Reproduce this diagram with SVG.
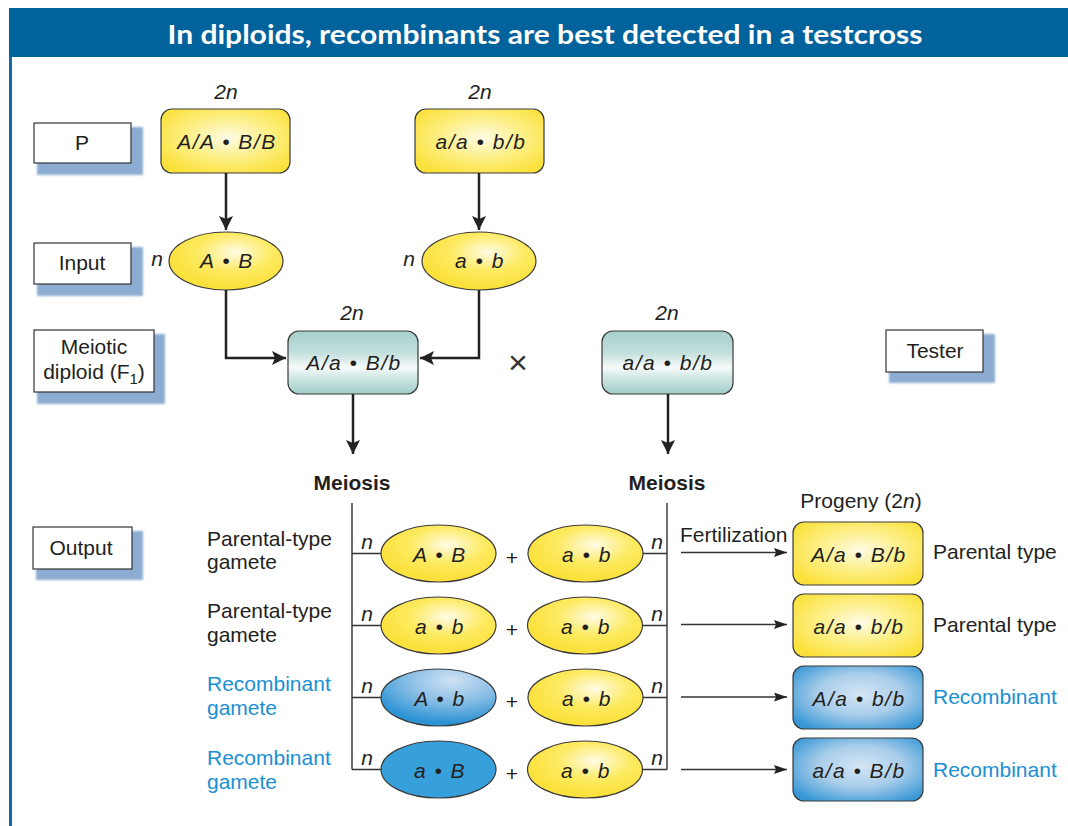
<svg xmlns="http://www.w3.org/2000/svg" width="1068" height="826" viewBox="0 0 1068 826">
<defs>
  <radialGradient id="gy" cx="52%" cy="45%" r="62%">
    <stop offset="0" stop-color="#fffbe4"/>
    <stop offset="0.55" stop-color="#fdee80"/>
    <stop offset="1" stop-color="#fbe13c"/>
  </radialGradient>
  <radialGradient id="gye" cx="58%" cy="35%" r="60%">
    <stop offset="0" stop-color="#fffbe4"/>
    <stop offset="0.55" stop-color="#fdea60"/>
    <stop offset="1" stop-color="#fbe13c"/>
  </radialGradient>
  <radialGradient id="gb" cx="52%" cy="45%" r="65%">
    <stop offset="0" stop-color="#d4e6f5"/>
    <stop offset="0.5" stop-color="#a9cdea"/>
    <stop offset="1" stop-color="#3797d6"/>
  </radialGradient>
  <radialGradient id="gbe" cx="62%" cy="20%" r="75%">
    <stop offset="0" stop-color="#cfe2f4"/>
    <stop offset="0.5" stop-color="#8cbfe6"/>
    <stop offset="1" stop-color="#2c93d4"/>
  </radialGradient>
  <linearGradient id="gt" x1="0" y1="0" x2="0" y2="1">
    <stop offset="0" stop-color="#a5cfcb"/>
    <stop offset="0.35" stop-color="#c3e0dd"/>
    <stop offset="0.58" stop-color="#f6fbfa"/>
    <stop offset="0.75" stop-color="#cde6e3"/>
    <stop offset="1" stop-color="#a2ccc7"/>
  </linearGradient>
  <filter id="blur" x="-10%" y="-10%" width="120%" height="130%">
    <feGaussianBlur stdDeviation="1.2"/>
  </filter>
  <marker id="ah" markerUnits="userSpaceOnUse" markerWidth="16" markerHeight="16" refX="14" refY="7" orient="auto">
    <path d="M0,0 L14,7 L0,14 L3,7 z" fill="#222"/>
  </marker>
  <marker id="ahs" markerUnits="userSpaceOnUse" markerWidth="14" markerHeight="10" refX="13" refY="4.5" orient="auto">
    <path d="M0,0 L13,4.5 L0,9 L2,4.5 z" fill="#222"/>
  </marker>
</defs>
<style>
  text { font-family: "Liberation Sans", Arial, sans-serif; font-size: 21px; fill: #231f20; }
  .title { font-family: Lato, "Open Sans", sans-serif; font-weight: bold; font-size: 27px; fill: #ffffff; }
  .it { font-style: italic; }
  .geno { font-style: italic; letter-spacing: 1.5px; }
  .c { text-anchor: middle; }
  .bold { font-weight: bold; }
  .blue { fill: #1b8fd3; }
  .times { font-size: 34px; fill: #333333; }
  .lbl { fill: #ffffff; stroke: #333333; stroke-width: 1.2; }
  .shadow { fill: #8cadd1; filter: url(#blur); }
  .shape { stroke: #3a3a3a; stroke-width: 1.2; }
  .y { fill: url(#gy); }
  .ye { fill: url(#gye); }
  .b { fill: url(#gb); }
  .be { fill: url(#gbe); }
  .bs { fill: #37a0da; }
  .t { fill: url(#gt); }
  .thick { fill: none; stroke: #222; stroke-width: 2.5; }
  .thin { fill: none; stroke: #333; stroke-width: 1.4; }
</style>

<rect width="1068" height="826" fill="#ffffff"/>
<g id="header">
  <rect x="9" y="8" width="1059" height="49" fill="#02629c"/>
  <line x1="10.5" y1="57" x2="10.5" y2="826" stroke="#0e69a6" stroke-width="3"/>
  <text class="title c" x="545" y="44" textLength="755" lengthAdjust="spacingAndGlyphs">In diploids, recombinants are best detected in a testcross</text>
</g>

<!-- stage labels -->
<g id="label-P">
  <rect class="shadow" x="37" y="127" width="106" height="48"/>
  <rect class="lbl" x="34" y="123" width="97" height="40"/>
  <text class="c" x="82" y="150">P</text>
</g>
<g id="label-input">
  <rect class="shadow" x="37" y="247" width="106" height="49"/>
  <rect class="lbl" x="34" y="243" width="97" height="41"/>
  <text class="c" x="82" y="270">Input</text>
</g>
<g id="label-meiotic">
  <rect class="shadow" x="37" y="334" width="128" height="70"/>
  <rect class="lbl" x="34" y="330" width="120" height="62"/>
  <text class="c" x="94" y="354">Meiotic</text>
  <text class="c" x="94" y="379">diploid (F<tspan style="font-size:15px" dy="5">1</tspan><tspan dy="-5">)</tspan></text>
</g>
<g id="label-tester">
  <rect class="shadow" x="889" y="334" width="106" height="49"/>
  <rect class="lbl" x="886" y="330" width="97" height="42"/>
  <text class="c" x="935" y="358">Tester</text>
</g>
<g id="label-output">
  <rect class="shadow" x="36" y="531" width="107" height="49"/>
  <rect class="lbl" x="33" y="527" width="99" height="42"/>
  <text class="c" x="81" y="555">Output</text>
</g>

<!-- parents -->
<g id="parent-AABB">
  <text class="it c" x="226" y="99">2n</text>
  <rect class="shape y" x="161" y="109" width="129" height="64" rx="11"/>
  <text class="geno c" x="227" y="149">A/A • B/B</text>
</g>
<g id="parent-aabb">
  <text class="it c" x="480" y="99">2n</text>
  <rect class="shape y" x="415" y="109" width="129" height="64" rx="11"/>
  <text class="geno c" x="481" y="149">a/a • b/b</text>
</g>

<!-- input gametes -->
<g id="input-AB">
  <text class="it c" x="157" y="266">n</text>
  <ellipse class="shape ye" cx="226" cy="261" rx="57" ry="29"/>
  <text class="geno c" x="227" y="268">A • B</text>
</g>
<g id="input-ab">
  <text class="it c" x="409" y="266">n</text>
  <ellipse class="shape ye" cx="479" cy="261" rx="57" ry="29"/>
  <text class="geno c" x="480" y="268">a • b</text>
</g>

<!-- F1 and tester -->
<g id="f1">
  <text class="it c" x="352" y="320">2n</text>
  <rect class="shape t" x="288" y="331" width="130" height="63" rx="11"/>
  <text class="geno c" x="354" y="370">A/a • B/b</text>
</g>
<g id="cross">
  <text class="times c" x="518" y="374">×</text>
</g>
<g id="tester">
  <text class="it c" x="667" y="320">2n</text>
  <rect class="shape t" x="602" y="331" width="131" height="63" rx="11"/>
  <text class="geno c" x="668" y="370">a/a • b/b</text>
</g>
<g id="meiosis-labels">
  <text class="bold c" x="352" y="490">Meiosis</text>
  <text class="bold c" x="667" y="490">Meiosis</text>
</g>

<!-- gamete rows -->
<g id="row1">
  <text x="207" y="546">Parental-type</text>
  <text x="207" y="569">gamete</text>
  <text class="it c" x="367" y="549">n</text>
  <ellipse class="shape ye" cx="438.5" cy="553.5" rx="57.5" ry="28.5"/>
  <text class="geno c" x="440" y="562">A • B</text>
  <text class="c" x="512" y="565">+</text>
  <ellipse class="shape ye" cx="585.5" cy="553.5" rx="57.5" ry="28.5"/>
  <text class="geno c" x="587" y="562">a • b</text>
  <text class="it c" x="657" y="549">n</text>
</g>
<g id="row2">
  <text x="207" y="618">Parental-type</text>
  <text x="207" y="642">gamete</text>
  <text class="it c" x="367" y="621">n</text>
  <ellipse class="shape ye" cx="438.5" cy="625.5" rx="57.5" ry="28.5"/>
  <text class="geno c" x="440" y="634">a • b</text>
  <text class="c" x="512" y="637">+</text>
  <ellipse class="shape ye" cx="585" cy="625.5" rx="57.5" ry="28.5"/>
  <text class="geno c" x="586" y="634">a • b</text>
  <text class="it c" x="657" y="621">n</text>
</g>
<g id="row3">
  <text class="blue" x="207" y="691">Recombinant</text>
  <text class="blue" x="207" y="715">gamete</text>
  <text class="it c" x="367" y="693">n</text>
  <ellipse class="shape be" cx="438.5" cy="697.5" rx="57.5" ry="28.5"/>
  <text class="geno c" x="440" y="706">A • b</text>
  <text class="c" x="512" y="709">+</text>
  <ellipse class="shape ye" cx="585.5" cy="697.5" rx="57.5" ry="28.5"/>
  <text class="geno c" x="587" y="706">a • b</text>
  <text class="it c" x="657" y="693">n</text>
</g>
<g id="row4">
  <text class="blue" x="207" y="765">Recombinant</text>
  <text class="blue" x="207" y="789">gamete</text>
  <text class="it c" x="367" y="765">n</text>
  <ellipse class="shape bs" cx="438.5" cy="769.5" rx="57.5" ry="28.5"/>
  <text class="geno c" x="440" y="778">a • B</text>
  <text class="c" x="512" y="781">+</text>
  <ellipse class="shape ye" cx="585" cy="769.5" rx="57.5" ry="28.5"/>
  <text class="geno c" x="586" y="778">a • b</text>
  <text class="it c" x="657" y="765">n</text>
</g>

<!-- progeny -->
<g id="progeny-title">
  <text class="c" x="861" y="508">Progeny (2<tspan class="it">n</tspan>)</text>
  <text x="680" y="542">Fertilization</text>
</g>
<g id="progeny1">
  <rect class="shape y" x="793" y="522" width="130" height="63" rx="11"/>
  <text class="geno c" x="859" y="562">A/a • B/b</text>
  <text x="933" y="559">Parental type</text>
</g>
<g id="progeny2">
  <rect class="shape y" x="793" y="594" width="130" height="63" rx="11"/>
  <text class="geno c" x="859" y="634">a/a • b/b</text>
  <text x="933" y="632">Parental type</text>
</g>
<g id="progeny3">
  <rect class="shape b" x="793" y="666" width="130" height="63" rx="11"/>
  <text class="geno c" x="859" y="706">A/a • b/b</text>
  <text class="blue" x="933" y="704">Recombinant</text>
</g>
<g id="progeny4">
  <rect class="shape b" x="793" y="738" width="130" height="63" rx="11"/>
  <text class="geno c" x="859" y="778">a/a • B/b</text>
  <text class="blue" x="933" y="777">Recombinant</text>
</g>

<!-- connectors -->
<g id="connectors">
  <line class="thick" x1="226" y1="173" x2="226" y2="230" marker-end="url(#ah)"/>
  <line class="thick" x1="479" y1="173" x2="479" y2="230" marker-end="url(#ah)"/>
  <path class="thick" d="M226,290 V358 H286" marker-end="url(#ah)"/>
  <path class="thick" d="M479,290 V358 H420" marker-end="url(#ah)"/>
  <line class="thick" x1="353" y1="394" x2="353" y2="454" marker-end="url(#ah)"/>
  <line class="thick" x1="668" y1="394" x2="668" y2="454" marker-end="url(#ah)"/>
  <path class="thin" d="M352,503 V769.5"/>
  <path class="thin" d="M667,503 V769.5"/>
  <path class="thin" d="M352,553.5 H381 M352,625.5 H381 M352,697.5 H381 M352,769.5 H381"/>
  <path class="thin" d="M643,553.5 H667 M642.5,625.5 H667 M643,697.5 H667 M642.5,769.5 H667"/>
  <line class="thin" x1="681" y1="552.5" x2="787" y2="552.5" marker-end="url(#ahs)"/>
  <line class="thin" x1="681" y1="624.5" x2="787" y2="624.5" marker-end="url(#ahs)"/>
  <line class="thin" x1="681" y1="697" x2="787" y2="697" marker-end="url(#ahs)"/>
  <line class="thin" x1="681" y1="769.5" x2="787" y2="769.5" marker-end="url(#ahs)"/>
</g>
</svg>
